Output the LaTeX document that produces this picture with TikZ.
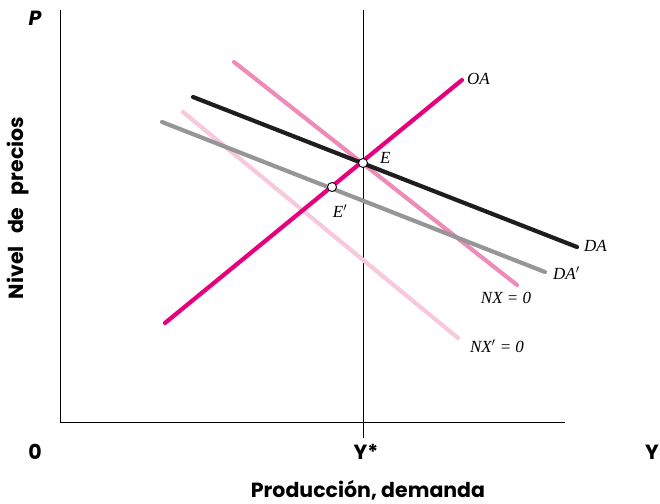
\documentclass[tikz,border=0pt]{standalone}
\usepackage{fontspec}
\setmainfont{Liberation Serif}
\newfontfamily\axfont{Poppins}
\definecolor{oacol}{RGB}{230,0,126}
\definecolor{nxcol}{RGB}{238,140,185}
\definecolor{nxpcol}{RGB}{248,200,220}
\definecolor{dacol}{RGB}{30,30,30}
\definecolor{dapcol}{RGB}{150,150,150}
\begin{document}
\begin{tikzpicture}[x=1pt,y=-1pt,
  curve/.style={line width=4.2pt,line cap=round},
  axis/.style={line width=1pt,black},
  lab/.style={font=\fontsize{17}{17}\selectfont\itshape,inner sep=0pt},
  axlab/.style={font=\axfont\bfseries\fontsize{20.5}{20.5}\selectfont,inner sep=0pt},
  pt/.style={circle,draw=black,fill=white,line width=0.9pt,minimum size=9pt,inner sep=0pt}]
\useasboundingbox (0,0) rectangle (660,503);
% axes
\coordinate (top) at (60,10);
\coordinate (orig) at (60,422);
\coordinate (xend) at (565,422);
\coordinate (vtop) at (363,10);
\coordinate (vbot) at (363,438);
\draw[axis] (top) -- (orig) -- (xend);
\draw[line width=0.8pt] (vtop) -- (vbot);
% curves
\coordinate (nxp1) at (183,112); \coordinate (nxp2) at (458,338);
\coordinate (nx1) at (234,62); \coordinate (nx2) at (517,285);
\coordinate (dap1) at (162,122); \coordinate (dap2) at (545,272);
\coordinate (da1) at (193,97); \coordinate (da2) at (577,247);
\coordinate (oa1) at (165,323); \coordinate (oa2) at (462,80);
\draw[curve,nxpcol] (nxp1) -- (nxp2);
\draw[curve,nxcol] (nx1) -- (nx2);
\draw[curve,dapcol] (dap1) -- (dap2);
\draw[curve,dacol] (da1) -- (da2);
\draw[curve,oacol] (oa1) -- (oa2);
% points
\node[pt] (E) at (363,163) {};
\node[pt] (Ep) at (332,187) {};
\node[lab,anchor=west] (Elab) at (380,158) {E};
\node[lab] (Eplab) at (340,211) {E$'$};
% labels
\node[lab,anchor=west] (OA) at (467,79) {OA};
\node[lab,anchor=west] (DA) at (584,246) {DA};
\node[lab,anchor=west] (DAp) at (553,273) {DA$'$};
\node[lab] (NX) at (506,298) {NX = 0};
\node[lab] (NXp) at (497,346) {NX$'$ = 0};
% axis labels
\node[axlab,font=\axfont\bfseries\itshape\fontsize{20.5}{20.5}\selectfont] (P) at (35,18) {P};
\node[axlab] (O) at (35,452) {0};
\node[axlab] (Ys) at (366,452) {Y*};
\node[axlab] (Y) at (652,452) {Y};
\node[axlab] (prod) at (368,490) {Producción, demanda};
\node[axlab,rotate=90] (niv) at (18,208) {Nivel\hspace{0.6em}de\hspace{0.6em}precios};
\end{tikzpicture}
\end{document}
